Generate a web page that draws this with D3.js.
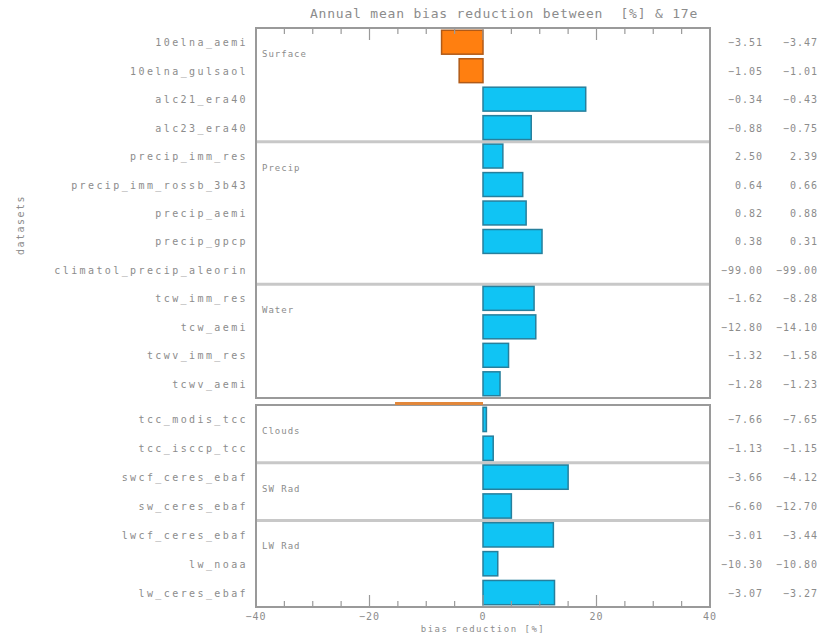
<!DOCTYPE html>
<html>
<head>
<meta charset="utf-8">
<script src="https://cdn.jsdelivr.net/npm/d3@7"></script>
<style>
  html, body { margin: 0; padding: 0; background: #fff; }
  svg text { font-family: "DejaVu Sans Mono", monospace; fill: #8c8c8c; white-space: pre; }
</style>
</head>
<body>
<svg id="chart" width="821" height="635"></svg>
<script>
// Datasets, top to bottom
const datasets = [
  "10elna_aemi", "10elna_gulsaol", "alc21_era40", "alc23_era40",
  "precip_imm_res", "precip_imm_rossb_3b43", "precip_aemi", "precip_gpcp",
  "climatol_precip_aleorin",
  "tcw_imm_res", "tcw_aemi", "tcwv_imm_res", "tcwv_aemi",
  "tcc_modis_tcc", "tcc_isccp_tcc",
  "swcf_ceres_ebaf", "sw_ceres_ebaf",
  "lwcf_ceres_ebaf", "lw_noaa", "lw_ceres_ebaf"
];
// Annual mean bias reduction [%]
const biasReduction = [
  -7.3, -4.2, 18.1, 8.5,
  3.5, 7.0, 7.6, 10.4,
  0,
  9.0, 9.3, 4.5, 3.0,
  0.6, 1.8,
  15.0, 5.0,
  12.4, 2.6, 12.6
];
// Mean bias of the two runs
const biasRunA = [
  "-3.51", "-1.05", "-0.34", "-0.88",
  "2.50", "0.64", "0.82", "0.38",
  "-99.00",
  "-1.62", "-12.80", "-1.32", "-1.28",
  "-7.66", "-1.13",
  "-3.66", "-6.60",
  "-3.01", "-10.30", "-3.07"
];
const biasRunB = [
  "-3.47", "-1.01", "-0.43", "-0.75",
  "2.39", "0.66", "0.88", "0.31",
  "-99.00",
  "-8.28", "-14.10", "-1.58", "-1.23",
  "-7.65", "-1.15",
  "-4.12", "-12.70",
  "-3.44", "-10.80", "-3.27"
];
// Variable groups: name and index of first dataset
const groupNames = ["Surface", "Precip", "Water", "Clouds", "SW Rad", "LW Rad"];
const groupStarts = [0, 4, 9, 13, 15, 17];
// Two stacked panels: first 13 datasets, then the remaining 7
const panelSplit = 13;
// Bar that runs off the top of the lower panel
const overflowValue = -15.5;
const xTicks = [-40, -20, 0, 20, 40];

const svg = d3.select("#chart");
const left = 256, right = 710;
const upper = { top: 28, bottom: 398 };
const lower = { top: 405, bottom: 607 };

const x = d3.scaleLinear().domain([-40, 40]).range([left, right]);

const yUpper = d3.scaleBand().domain(datasets.slice(0, panelSplit))
  .range([upper.top, upper.bottom]).paddingInner(0.16).paddingOuter(0.08);
const yLower = d3.scaleBand().domain(datasets.slice(panelSplit))
  .range([lower.top, lower.bottom]).paddingInner(0.16).paddingOuter(0.08);
const yOf = (i) => (i < panelSplit ? yUpper : yLower);
const rowTop = (i) => yOf(i)(datasets[i]);
const rowMid = (i) => rowTop(i) + yOf(i).bandwidth() / 2;

const rows = datasets.map((name, i) => ({
  name, value: biasReduction[i], a: biasRunA[i], b: biasRunB[i], i
}));

// Top edge of each group: a panel top or the gap between two datasets
const groupTop = (s) => {
  if (s === 0) return upper.top;
  if (s === panelSplit) return lower.top;
  return (rowTop(s - 1) + yOf(s - 1).bandwidth() + rowTop(s)) / 2;
};
const sepY = groupStarts.filter(s => s !== 0 && s !== panelSplit).map(groupTop);

svg.selectAll("line.sep").data(sepY).join("line")
  .attr("class", "sep")
  .attr("x1", left).attr("x2", right)
  .attr("y1", d => d).attr("y2", d => d)
  .attr("stroke", "#c8c8c8").attr("stroke-width", 3);

// Group labels
svg.selectAll("text.group").data(groupNames).join("text")
  .attr("class", "group")
  .attr("x", left + 6)
  .attr("y", (d, k) => groupTop(groupStarts[k]) + 29)
  .attr("font-size", 9).attr("letter-spacing", 1)
  .text(d => d);

// Bars
svg.selectAll("rect.bar").data(rows).join("rect")
  .attr("class", "bar")
  .attr("x", d => x(Math.min(0, d.value)))
  .attr("width", d => Math.abs(x(d.value) - x(0)))
  .attr("y", d => rowTop(d.i))
  .attr("height", d => yOf(d.i).bandwidth())
  .attr("fill", d => d.value < 0 ? "#ff7f10" : "#10c4f4")
  .attr("stroke", d => d.value < 0 ? "#b05a18" : "#277f9c")
  .attr("stroke-width", 1.5);

// Panel frames
[upper, lower].forEach(p => {
  svg.append("rect")
    .attr("x", left).attr("y", p.top)
    .attr("width", right - left).attr("height", p.bottom - p.top)
    .attr("fill", "none").attr("stroke", "#9a9a9a").attr("stroke-width", 2);
});

// Bar clipped at the top edge of the lower panel
svg.append("rect")
  .attr("x", x(overflowValue)).attr("width", x(0) - x(overflowValue))
  .attr("y", lower.top - 3).attr("height", 3)
  .attr("fill", "#e2873a");

// Ticks along the top and bottom edges, pointing inward
const minorTicks = d3.range(-35, 40, 5).filter(v => !xTicks.includes(v));
const tickG = svg.append("g").attr("stroke", "#9a9a9a").attr("stroke-width", 1.2);
[[upper.top, 1], [lower.bottom, -1]].forEach(([y0, dir]) => {
  tickG.selectAll(null).data(xTicks).join("line")
    .attr("x1", d => x(d)).attr("x2", d => x(d))
    .attr("y1", y0).attr("y2", d => y0 + dir * 12);
  tickG.selectAll(null).data(minorTicks).join("line")
    .attr("x1", d => x(d)).attr("x2", d => x(d))
    .attr("y1", y0).attr("y2", d => y0 + dir * 6);
});

// Bottom axis labels
svg.selectAll("text.xt").data(xTicks).join("text")
  .attr("class", "xt")
  .attr("x", d => x(d)).attr("y", 620)
  .attr("text-anchor", "middle").attr("font-size", 10).attr("letter-spacing", 1)
  .text(d => d < 0 ? "\u2212" + Math.abs(d) : d);

svg.append("text")
  .attr("x", x(0)).attr("y", 632)
  .attr("text-anchor", "middle").attr("font-size", 9).attr("letter-spacing", 1.5)
  .text("bias reduction [%]");

// Dataset names
svg.selectAll("text.ds").data(rows).join("text")
  .attr("class", "ds")
  .attr("x", 248).attr("y", d => rowMid(d.i) + 4)
  .attr("text-anchor", "end").attr("font-size", 10).attr("letter-spacing", 2.4)
  .text(d => d.name);

// Bias values of the two runs
const fmt = s => s.replace("-", "\u2212");
svg.selectAll("text.va").data(rows).join("text")
  .attr("class", "va")
  .attr("x", 763).attr("y", d => rowMid(d.i) + 4)
  .attr("text-anchor", "end").attr("font-size", 10).attr("letter-spacing", 1)
  .text(d => fmt(d.a));
svg.selectAll("text.vb").data(rows).join("text")
  .attr("class", "vb")
  .attr("x", 818).attr("y", d => rowMid(d.i) + 4)
  .attr("text-anchor", "end").attr("font-size", 10).attr("letter-spacing", 1)
  .text(d => fmt(d.b));

// Y axis title
svg.append("text")
  .attr("transform", "translate(24,225) rotate(-90)")
  .attr("text-anchor", "middle").attr("font-size", 10).attr("letter-spacing", 1.5)
  .text("datasets");

// Title
svg.append("text")
  .attr("x", 504).attr("y", 18)
  .attr("text-anchor", "middle").attr("font-size", 13).attr("letter-spacing", 0.8)
  .text("Annual mean bias reduction between  [%] & 17e");
</script>
</body>
</html>
